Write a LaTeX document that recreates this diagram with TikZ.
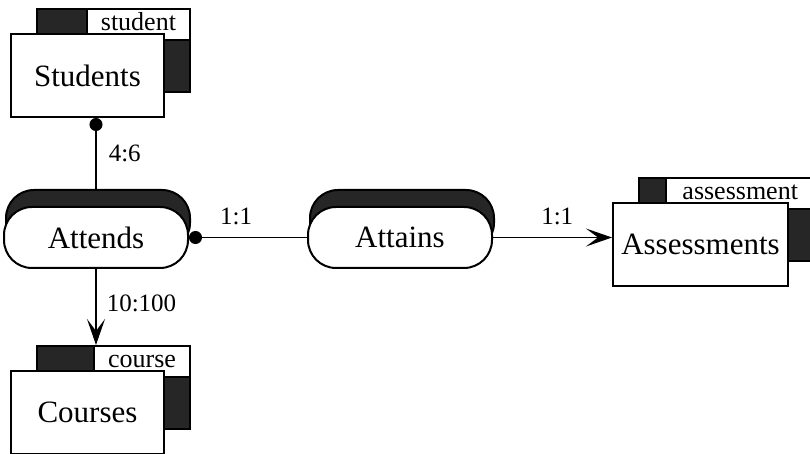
\documentclass[tikz,border=0pt]{standalone}
\usepackage{fontspec}
\setmainfont{Liberation Serif}
\usepackage{tikz}
\usetikzlibrary{arrows.meta,positioning,calc}
\tikzstyle{entity}=[draw,fill=white,minimum width=76.5pt,minimum height=41.5pt,inner sep=0pt,line width=1pt,font=\fontsize{15.5}{18}\selectfont]
\tikzstyle{entshade}=[draw,fill=black!85,minimum width=76.5pt,minimum height=41.5pt,inner sep=0pt,line width=1pt]
\tikzstyle{tag}=[draw,fill=white,anchor=north east,inner xsep=7pt,inner ysep=0.5pt,text height=10.5pt,text depth=4pt,line width=1pt,font=\fontsize{13}{15}\selectfont]
\tikzstyle{rel}=[draw,fill=white,rounded corners=14pt,minimum width=92pt,minimum height=30.5pt,inner sep=0pt,line width=1pt,font=\fontsize{15.5}{18}\selectfont]
\tikzstyle{relshade}=[draw,fill=black!85,rounded corners=14pt,minimum width=92pt,minimum height=30.5pt,inner sep=0pt,line width=1pt]
\tikzstyle{ratio}=[inner sep=1pt,font=\fontsize{12.5}{15}\selectfont]

\begin{document}
\begin{tikzpicture}[x=0.5pt,y=-0.5pt,line width=0.8pt]
\useasboundingbox (0,0) rectangle (810,454);
\clip (0,0) rectangle (810,454);

% entities: shaded back box, tag, front box
\node [entshade] (studentsbg) at (113.5,50.5) {};
\node [tag] at (studentsbg.north east) {student};
\node [entity] (students) at ($(studentsbg)+(-26,25)$) {Students};

\node [entshade] (coursesbg) at (113.5,387.5) {};
\node [tag] at (coursesbg.north east) {course};
\node [entity] (courses) at ($(coursesbg)+(-26,25)$) {Courses};

\node [entshade,minimum width=87.5pt] (assessmentsbg) at (726.5,219.5) {};
\node [tag,inner xsep=8pt] at (assessmentsbg.north east) {assessment};
\node [entity,minimum width=87.5pt] (assessments) at ($(assessmentsbg)+(-26,25)$) {Assessments};

% relationships
\node [relshade] (attendsbg) at (98,220.5) {};
\node [rel] (attends) at ($(attendsbg)+(-2,17)$) {Attends};

\node [relshade] (attainsbg) at (402,220.5) {};
\node [rel] (attains) at ($(attainsbg)+(-2,17)$) {Attains};

% links
\draw [{Circle[length=6.5pt]}-] (students.south -| attends.north) -- (attendsbg.north -| attends.north)
  node [ratio,midway,right=5pt] {4:6};
\draw [-{Stealth[length=13pt,width=9pt,inset=6pt]}] (attends.south) -- (coursesbg.north -| attends.south)
  node [ratio,pos=0.45,right=4pt] {10:100};
\draw [{Circle[length=6.5pt]}-] (attends.east) -- (attains.west)
  node [ratio,pos=0.4,above=5pt] {1:1};
\draw [-{Stealth[length=13pt,width=9pt,inset=6pt]}] (attains.east) -- (attains.east -| assessments.west)
  node [ratio,pos=0.54,above=5pt] {1:1};
\end{tikzpicture}
\end{document}
